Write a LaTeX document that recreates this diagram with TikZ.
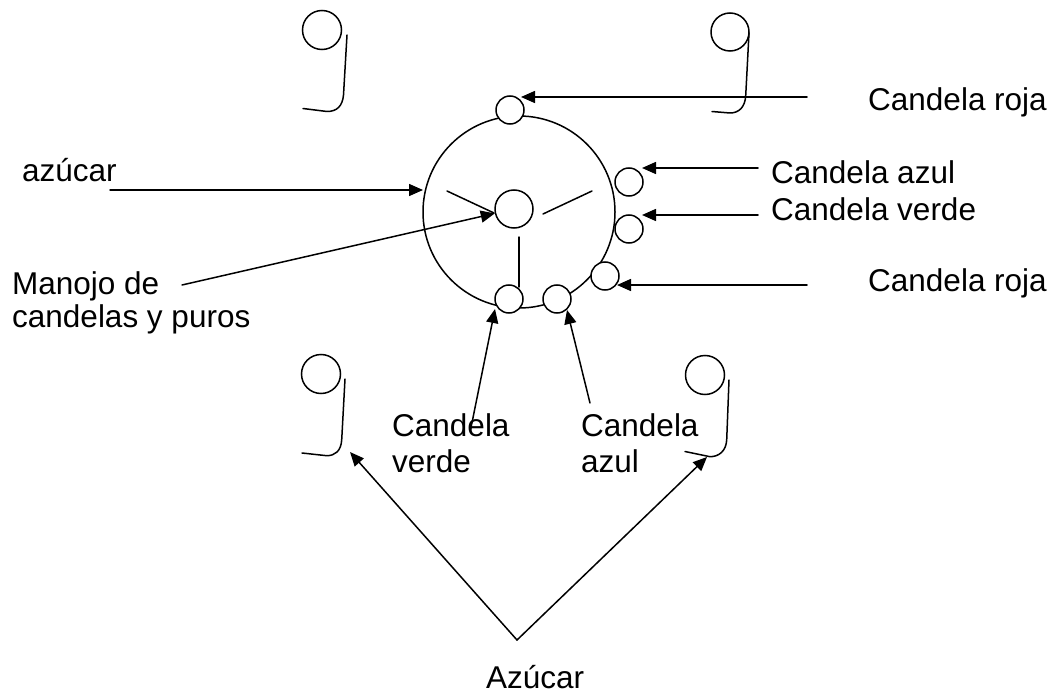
\documentclass[tikz,border=0pt]{standalone}
\usepackage{fontspec}
\setmainfont{Liberation Sans}
\usetikzlibrary{arrows.meta}
\begin{document}
\begin{tikzpicture}[x=1bp,y=-1bp,
  ln/.style={line width=1.5bp, black, line cap=round, line join=round},
  arr/.style={ln, -{Triangle[length=14bp,width=12bp]}},
  sm/.style={circle, draw, line width=1.5bp, fill=white, minimum size=28bp, inner sep=0},
  big/.style={circle, draw, line width=1.5bp, inner sep=0},
  lbl/.style={anchor=base west, inner sep=0, font=\fontsize{31.5bp}{36bp}\selectfont},
]
\useasboundingbox (0,0) rectangle (1050,695);

% main circle and parts
\node[big, minimum size=192bp] (main) at (519,212) {};
\node[big, minimum size=38bp] (ctr) at (514,209) {};
\draw[ln] (447,191) -- (494,213);
\draw[ln] (543,214) -- (592,191);
\draw[ln] (519,237) -- (519,287);

% candles on the circle
\node[sm] (top) at (510,110) {};
\node[sm] (rAz) at (629,182) {};
\node[sm] (rVe) at (629,229) {};
\node[sm] (rRo) at (605,276) {};
\node[sm] (bVe) at (509,299) {};
\node[sm] (bAz) at (557,299) {};

% sugar hooks
\node[big, minimum size=39bp] (h1) at (322,30) {};
\draw[ln] (347,35) -- (343.5,95) .. controls (342.5,106) and (337,111.5) .. (327,111.5) -- (303,108.5);
\node[big, minimum size=38bp] (h2) at (730,32) {};
\draw[ln] (749,33) -- (745.7,96) .. controls (745,107) and (739,113) .. (730,113) -- (712,111.5);
\node[big, minimum size=39bp] (h3) at (321,374) {};
\draw[ln] (345,379) -- (341.7,440) .. controls (341,451) and (335,455.7) .. (326.7,455.7) -- (302,453);
\node[big, minimum size=39bp] (h4) at (705,375) {};
\draw[ln] (729,380) -- (726.7,440) .. controls (726,451) and (719,456.7) .. (710,456.7) -- (685,451.5);

% labels
\node[lbl] (tRoja1) at (868,111) {Candela roja};
\node[lbl] (tAzul1) at (771,184) {Candela azul};
\node[lbl] (tVerde1) at (771,220.5) {Candela verde};
\node[lbl] (tRoja2) at (868,291.5) {Candela roja};
\node[lbl] (tAzucar) at (22,181.5) {azúcar};
\node[lbl] (tMan1) at (12,294) {Manojo de};
\node[lbl] (tMan2) at (12,327) {candelas y puros};
\node[lbl] (tVerde2a) at (392,436.5) {Candela};
\node[lbl] (tVerde2b) at (392,472) {verde};
\node[lbl] (tAzul2a) at (581,436.5) {Candela};
\node[lbl] (tAzul2b) at (581,472) {azul};
\node[lbl] (tAz) at (486,688) {Azúcar};

% arrow ends
\coordinate (s1) at (807,97);   \coordinate (e1) at (521,97);
\coordinate (s2) at (758,168);  \coordinate (e2) at (642,168);
\coordinate (s3) at (758,215);  \coordinate (e3) at (642,215);
\coordinate (s4) at (807,285);  \coordinate (e4) at (617,285);
\coordinate (s5) at (110,190);  \coordinate (e5) at (423,190);
\coordinate (s6) at (182,285);
\coordinate (s7) at (470.5,430); \coordinate (e7) at (495,309);
\coordinate (s8) at (590,403);  \coordinate (e8) at (567,310);
\coordinate (apex) at (517,640);
\coordinate (e9) at (350,452);  \coordinate (e10) at (707,457);

\draw[arr] (s1) -- (e1);
\draw[arr] (s2) -- (e2);
\draw[arr] (s3) -- (e3);
\draw[arr] (s4) -- (e4);
\draw[arr] (s5) -- (e5);
\draw[arr] (s6) -- (ctr);
\draw[arr] (s7) -- (e7);
\draw[arr] (s8) -- (e8);
\draw[arr] (apex) -- (e9);
\draw[arr] (apex) -- (e10);
\end{tikzpicture}
\end{document}
